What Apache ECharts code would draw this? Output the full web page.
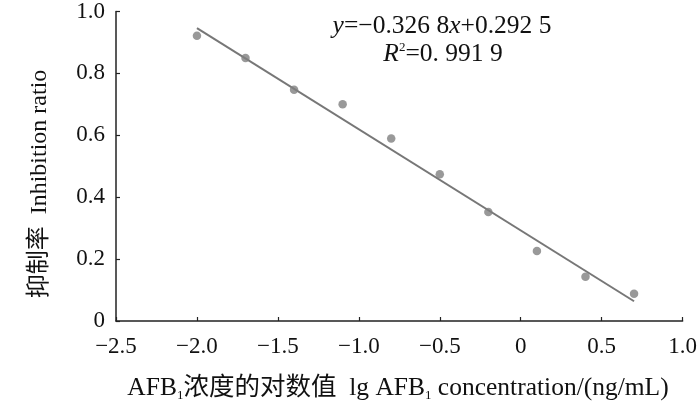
<!DOCTYPE html>
<html><head><meta charset="utf-8">
<script src="https://cdn.jsdelivr.net/npm/echarts@6/dist/echarts.min.js"></script>
<style>html,body{margin:0;padding:0;background:#fff}#c{width:700px;height:407px}</style>
</head><body><div id="c"></div>
<script>
const xValues = [-2.0, -1.7, -1.4, -1.1, -0.8, -0.5, -0.2, 0.1, 0.4, 0.7];
const inhibition = [0.922, 0.850, 0.747, 0.700, 0.590, 0.474, 0.352, 0.226, 0.143, 0.088];
const fitSlope = -0.3268;
const fitIntercept = 0.2925;
const fitRange = [-2.0, 0.7];
const equationText = ['y', '=−0.326 8', 'x', '+0.292 5'];
const r2Text = ['R', '2', '=0. 991 9'];
const yTitle = '抑制率  Inhibition ratio';
const xTitle = ['AFB', '1', '浓度的对数值  lg AFB', '1', ' concentration/(ng/mL)'];

const FONT = '"Liberation Serif","Times New Roman","Noto Sans CJK SC",serif';
const scatterData = xValues.map((x, i) => [x, inhibition[i]]);
const fitData = fitRange.map(x => [x, fitSlope * x + fitIntercept]);

const chart = echarts.init(document.getElementById('c'));
const fmt = v => {
  if (Math.abs(v) < 1e-9) return '0';
  return v.toFixed(1).replace('-', '−');
};
chart.setOption({
  animation: false,
  grid: {left: 116, right: 16, top: 10, bottom: 86},
  xAxis: {
    type: 'value', min: -2.5, max: 1.0, interval: 0.5,
    axisLine: {show: true, onZero: false, lineStyle: {color: '#222', width: 1.5}},
    axisTick: {show: true, inside: true, length: 4, lineStyle: {color: '#222', width: 1.2}},
    axisLabel: {formatter: fmt, color: '#111', fontFamily: FONT, fontSize: 23, margin: 14},
    splitLine: {show: false}
  },
  yAxis: {
    type: 'value', min: 0, max: 1.0, interval: 0.2,
    axisLine: {show: true, onZero: false, lineStyle: {color: '#222', width: 1.5}},
    axisTick: {show: true, inside: true, length: 4, lineStyle: {color: '#222', width: 1.2}},
    axisLabel: {formatter: fmt, color: '#111', fontFamily: FONT, fontSize: 23, margin: 11},
    splitLine: {show: false}
  },
  series: [
    {type: 'line', data: fitData, symbol: 'none', lineStyle: {color: '#777', width: 2}, z: 2},
    {type: 'scatter', data: scatterData, symbolSize: 8.5, itemStyle: {color: '#7f7f7f'}, z: 3}
  ],
  graphic: [
    {
      type: 'text', x: 442, y: 26,
      style: {
        rich: {
          i: {fontFamily: FONT, fontStyle: 'italic', fontSize: 25.5, fill: '#111'},
          n: {fontFamily: FONT, fontSize: 25.5, fill: '#111'}
        },
        text: '{i|' + equationText[0] + '}{n|' + equationText[1] + '}{i|' + equationText[2] + '}{n|' + equationText[3] + '}',
        align: 'center', verticalAlign: 'middle'
      }
    },
    {
      type: 'text', x: 443, y: 54,
      style: {
        rich: {
          i: {fontFamily: FONT, fontStyle: 'italic', fontSize: 25.5, fill: '#111'},
          n: {fontFamily: FONT, fontSize: 25.5, fill: '#111'},
          sup: {fontFamily: FONT, fontSize: 13, fill: '#111', padding: [0,0,12,0]}
        },
        text: '{i|' + r2Text[0] + '}{sup|' + r2Text[1] + '}{n|' + r2Text[2] + '}',
        align: 'center', verticalAlign: 'middle'
      }
    },
    {
      type: 'text', x: 40, y: 184, rotation: Math.PI / 2,
      style: {
        text: yTitle, fontFamily: FONT, fontSize: 24, fill: '#111',
        align: 'center', verticalAlign: 'middle'
      }
    },
    {
      type: 'text', x: 398, y: 388,
      style: {
        rich: {
          n: {fontFamily: FONT, fontSize: 25.5, fill: '#111'},
          sub: {fontFamily: FONT, fontSize: 13, fill: '#111', padding: [15,0,0,0]}
        },
        text: '{n|' + xTitle[0] + '}{sub|' + xTitle[1] + '}{n|' + xTitle[2] + '}{sub|' + xTitle[3] + '}{n|' + xTitle[4] + '}',
        align: 'center', verticalAlign: 'middle'
      }
    }
  ]
});
</script></body></html>
